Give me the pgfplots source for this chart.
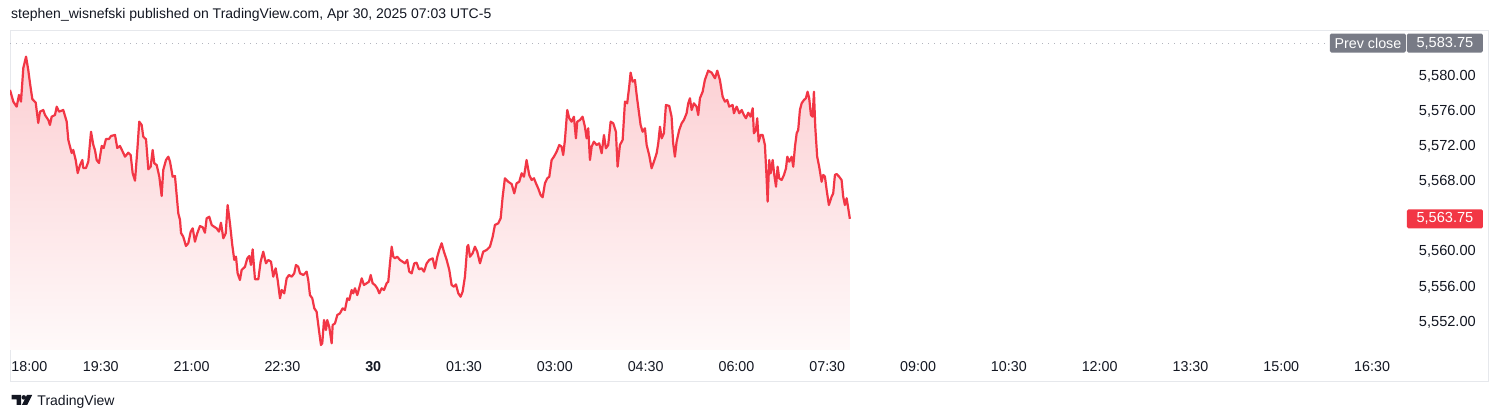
\documentclass[border=0pt]{standalone}
\usepackage{pgfplots}
\pgfplotsset{compat=1.18}
\usepackage{pgfplotstable}
\usepackage{fontspec}
\setmainfont{Liberation Sans}

\definecolor{tvred}{RGB}{242,54,69}
\definecolor{tvtext}{RGB}{19,23,34}
\definecolor{tvgrey}{RGB}{120,123,134}
\definecolor{tvframe}{RGB}{230,232,236}
\definecolor{tvdots}{RGB}{178,181,190}

% minutes after 18:00, price
\pgfplotstableread{
min price
0 5578.41
3.3 5577.08
6.6 5576.51
8.9 5577.84
10.9 5577.08
13.2 5580.91
15.9 5582.20
18.1 5580.68
19.8 5579.20
22.1 5577.38
25.5 5576.96
28.0 5574.65
29.7 5575.94
33.0 5576.13
34.7 5575.56
38.0 5574.99
39.6 5574.43
41.3 5575.37
44.6 5575.56
46.3 5576.51
48.6 5575.94
52.8 5576.13
56.2 5574.80
57.8 5572.72
59.5 5571.96
61.1 5571.24
62.7 5571.58
65.1 5570.44
67.1 5568.96
69.4 5569.87
71.7 5570.44
72.6 5569.53
75.3 5569.53
77.6 5570.25
80.3 5573.66
82.6 5572.15
84.2 5571.58
85.9 5570.44
88.2 5570.10
90.9 5572.04
92.9 5571.81
95.1 5572.83
98.1 5572.83
100.1 5573.17
104.1 5573.29
106.3 5571.81
109.0 5572.04
111.7 5571.39
114.0 5570.82
117.2 5571.27
119.6 5571.01
121.6 5568.93
123.9 5568.09
126.2 5571.58
128.1 5574.80
130.5 5574.43
132.1 5573.09
134.8 5572.80
137.1 5569.39
139.4 5569.68
141.4 5571.58
143.0 5570.07
145.4 5569.87
148.0 5568.54
150.3 5566.35
151.9 5569.31
154.6 5570.44
156.9 5570.82
158.6 5570.25
161.2 5568.54
163.5 5568.62
166.8 5564.38
168.5 5563.62
169.5 5562.14
171.7 5561.72
174.4 5560.66
176.7 5560.97
179.1 5562.29
181.1 5562.67
183.3 5561.15
185.6 5562.10
188.3 5562.93
191.0 5562.79
193.2 5562.17
194.9 5563.81
197.5 5563.99
199.9 5563.05
202.2 5562.86
204.8 5562.67
207.1 5562.29
209.1 5563.31
211.4 5561.54
213.8 5562.10
215.7 5565.32
218.0 5563.24
220.3 5560.77
222.3 5559.07
224.0 5559.44
225.6 5557.55
227.9 5556.79
229.6 5557.93
232.9 5558.30
235.2 5559.26
237.2 5559.52
238.8 5558.50
240.5 5560.28
242.8 5556.87
246.1 5556.87
248.4 5558.87
251.0 5560.01
253.7 5558.69
256.0 5559.07
258.7 5558.87
260.9 5557.17
263.3 5558.12
265.3 5556.79
267.6 5554.71
269.3 5555.65
271.8 5555.28
274.2 5556.98
276.5 5557.36
279.2 5557.17
281.7 5557.55
283.4 5558.50
285.7 5558.30
287.4 5557.55
290.7 5557.36
294.0 5557.74
295.6 5556.79
297.3 5555.08
299.6 5554.71
301.6 5553.57
303.9 5553.18
306.2 5551.10
308.2 5549.40
309.5 5549.59
311.2 5552.24
313.2 5551.10
314.4 5552.24
316.4 5551.48
318.8 5549.59
319.8 5551.67
322.1 5551.86
324.4 5552.81
327.0 5553.00
329.7 5553.57
332.0 5553.38
334.3 5554.71
336.3 5554.52
338.6 5555.65
340.2 5555.28
341.9 5555.85
344.2 5555.08
346.9 5556.22
348.6 5556.98
350.8 5556.22
353.5 5556.42
355.8 5556.60
357.5 5557.36
359.4 5556.42
361.7 5556.22
364.0 5555.85
366.0 5555.28
368.4 5555.85
370.7 5555.65
373.3 5556.42
374.9 5556.60
376.6 5558.69
378.3 5560.58
379.9 5559.44
381.5 5559.26
383.8 5559.44
386.5 5559.07
389.2 5558.87
391.4 5558.69
393.7 5559.07
395.7 5557.74
398.1 5557.55
400.7 5558.69
403.0 5558.76
405.3 5558.01
408.0 5558.12
410.3 5557.74
413.0 5558.69
415.5 5559.07
418.9 5559.26
421.2 5558.12
423.5 5559.44
425.4 5560.20
427.8 5560.97
430.1 5560.01
432.8 5559.07
435.4 5557.93
437.7 5556.22
440.0 5556.03
442.0 5556.30
444.3 5555.28
446.6 5554.89
448.6 5555.46
450.9 5557.17
453.2 5560.58
454.2 5560.77
455.9 5559.44
458.5 5559.83
460.8 5560.58
463.1 5560.01
465.8 5558.69
469.0 5560.01
472.4 5560.20
475.7 5560.58
478.4 5561.72
480.6 5563.05
483.9 5563.24
486.3 5563.81
488.3 5566.27
490.5 5568.36
493.8 5567.97
497.2 5567.71
499.8 5566.65
502.1 5567.79
504.7 5567.97
507.1 5568.93
509.4 5568.54
512.0 5570.44
514.6 5568.74
517.0 5568.17
519.3 5568.36
521.3 5567.79
523.5 5567.22
525.9 5566.46
527.9 5566.20
530.2 5567.79
532.5 5568.36
534.5 5568.54
536.8 5570.44
539.1 5570.82
541.8 5571.39
544.4 5572.15
546.7 5571.96
548.3 5571.01
550.0 5572.72
552.3 5576.13
554.3 5575.19
556.6 5574.80
558.9 5575.37
560.9 5572.91
562.2 5574.80
564.9 5574.99
567.5 5575.37
569.8 5574.23
571.5 5572.91
573.1 5574.05
574.8 5570.44
576.5 5571.96
578.7 5572.53
581.4 5572.15
584.0 5572.34
586.4 5571.21
588.7 5573.29
590.6 5571.77
592.9 5572.15
595.3 5574.80
597.9 5574.62
600.5 5573.66
602.2 5569.68
604.5 5572.15
607.2 5572.72
609.5 5577.08
611.7 5576.89
613.7 5578.78
615.1 5580.38
617.1 5579.35
619.4 5579.54
621.1 5577.84
622.6 5576.51
625.0 5574.43
627.0 5573.66
629.3 5574.05
631.0 5572.15
633.5 5571.01
635.9 5569.50
638.2 5570.25
640.9 5571.21
642.5 5572.34
644.2 5574.23
645.9 5572.91
648.1 5573.48
650.1 5576.70
653.4 5576.59
655.7 5575.37
657.3 5572.34
659.0 5570.82
660.7 5572.53
663.3 5573.86
665.7 5574.62
667.9 5574.99
670.6 5575.76
672.2 5576.89
673.9 5577.46
675.6 5576.13
677.8 5576.89
680.5 5576.51
682.1 5575.56
683.8 5577.46
686.5 5578.21
688.7 5579.54
692.0 5580.60
695.4 5580.38
698.7 5579.74
701.0 5580.60
703.6 5579.54
706.3 5577.65
708.6 5577.08
710.9 5577.27
712.8 5576.51
716.2 5576.70
717.5 5575.76
720.2 5576.51
722.8 5575.76
725.2 5576.13
727.4 5575.56
729.4 5575.19
731.7 5575.82
734.1 5575.37
736.1 5576.33
737.3 5573.48
739.3 5573.86
740.6 5575.19
742.0 5572.53
744.0 5573.29
746.0 5573.29
748.2 5572.15
749.9 5568.36
750.9 5565.70
752.5 5570.44
753.9 5568.93
755.9 5570.44
757.5 5568.74
759.2 5567.41
760.8 5569.68
762.4 5568.36
764.8 5568.17
767.1 5568.74
769.1 5569.50
770.4 5570.82
772.3 5570.25
774.7 5570.82
776.3 5569.68
778.0 5571.96
779.7 5573.48
781.2 5573.86
782.9 5576.13
784.6 5576.89
786.9 5577.27
788.8 5577.46
790.5 5578.21
792.1 5577.46
793.8 5575.56
795.5 5575.37
796.8 5578.21
798.1 5574.23
800.0 5570.82
802.0 5569.68
804.4 5567.97
806.0 5568.74
807.7 5568.54
809.4 5567.03
811.6 5565.32
814.3 5566.27
815.9 5566.65
817.6 5568.74
819.3 5568.85
821.8 5568.54
824.2 5568.17
825.8 5566.27
827.5 5565.32
829.2 5566.09
830.8 5564.95
832.4 5563.75
}\pricedata

\begin{document}
\fontsize{14}{17}\selectfont
\begin{tikzpicture}
\begin{scope}[x=1pt,y=1pt]
\useasboundingbox (0,0) rectangle (1500,420);
\fill[white] (0,0) rectangle (1500,420);
\draw[tvframe, line width=0.8pt] (10.5,39) rectangle (1488,390);
\node[anchor=base west, inner sep=0pt, text=tvtext] at (11,401)
  {stephen\_wisnefski published on TradingView.com, Apr 30, 2025 07:03 UTC-5};
% TradingView logo
\fill[tvtext] (11.5,25) -- (21,25) -- (21,15) -- (16.5,15) -- (16.5,20.5) -- (11.5,20.5) -- cycle;
\fill[tvtext] (23.8,22.6) circle (2.3);
\fill[tvtext] (27,25) -- (32.2,25) -- (27.2,15) -- (22,15) -- cycle;
\node[anchor=base west, inner sep=0pt, text=tvtext] at (37.3,14.5) {TradingView};
\end{scope}

\begin{axis}[
  at={(10pt,70pt)}, anchor=south west,
  width=1395pt, height=320pt, scale only axis,
  xmin=0, xmax=1382.6,
  ymin=5548.83, ymax=5585.23,
  axis line style={draw=none},
  major tick length=0pt,
  clip mode=individual,
  xtick={0,90,...,1350},
  xticklabels={\rlap{\hspace{1.5pt}18:00},19:30,21:00,22:30,\textbf{30},01:30,03:00,04:30,06:00,07:30,09:00,10:30,12:00,13:30,15:00,16:30},
  xticklabel style={anchor=base, yshift=-22pt, text=tvtext, font=\fontsize{14.3}{17}\selectfont},
  ytick={5552,5556,5560,5564,5568,5572,5576,5580},
  yticklabels={{5,552.00},{5,556.00},{5,560.00},{},{5,568.00},{5,572.00},{5,576.00},{5,580.00}},
  yticklabel pos=right,
  yticklabel style={anchor=east, inner sep=0pt, xshift=71pt, text=tvtext, font=\fontsize{14.6}{17}\selectfont},
]
\addplot[draw=none, top color=tvred!24!white, bottom color=tvred!3!white, forget plot]
  table[x=min, y=price] {\pricedata} |- (axis cs:0,5548.83) -- cycle;
\addplot[tvdots, line width=0.9pt, dash pattern=on 0.9pt off 5.1pt, forget plot]
  coordinates {(0,5583.75) (1306,5583.75)};
\addplot[tvred, line width=2.2pt, line join=round, forget plot]
  table[x=min, y=price] {\pricedata};

\node[fill=tvgrey, text=white, minimum width=76pt, minimum height=19pt, inner sep=0pt, rounded corners=1.5pt, font=\fontsize{14.3}{17}\selectfont]
  at (axis cs:1345.9,5583.75) {Prev close};
\node[fill=tvgrey, text=white, minimum width=76pt, minimum height=19pt, inner sep=0pt, rounded corners=1.5pt, font=\fontsize{14.6}{17}\selectfont]
  at (axis cs:1422.2,5583.75) {5,583.75};
\node[fill=tvred, text=white, minimum width=76pt, minimum height=19pt, inner sep=0pt, rounded corners=1.5pt, font=\fontsize{14.6}{17}\selectfont]
  at (axis cs:1422.2,5563.75) {5,563.75};
\end{axis}
\end{tikzpicture}
\end{document}
